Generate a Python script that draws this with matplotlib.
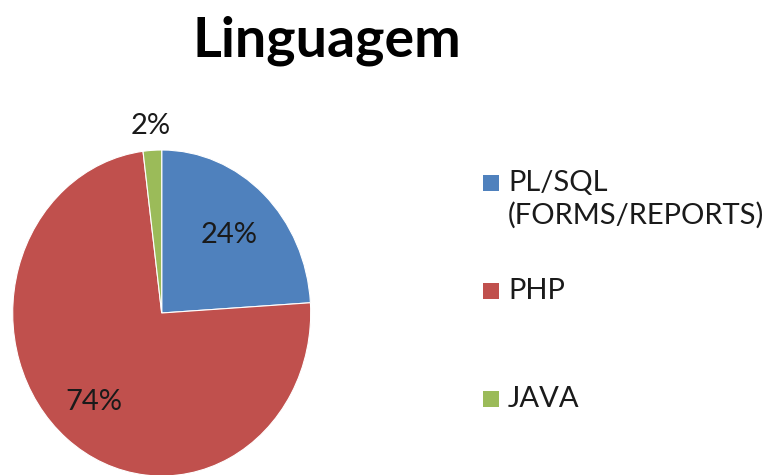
import numpy as np
import matplotlib
matplotlib.use('Agg')
import matplotlib.pyplot as plt
from matplotlib.patches import Rectangle

# data
labels = ['PL/SQL\n(FORMS/REPORTS)', 'PHP', 'JAVA']
values = [24, 74, 2]
colors = ['#4F81BD', '#C0504D', '#9BBB59']
label_dist = [0.66, 0.71, 1.15]

plt.rcParams['font.family'] = ['Lato', 'DejaVu Sans']

W, H = 767, 475
fig = plt.figure(figsize=(W / 100, H / 100), dpi=100)
ax = fig.add_axes([0, 0, 1, 1])

wedges, _ = ax.pie(values, colors=colors, startangle=90, counterclock=False,
                   wedgeprops=dict(edgecolor='white', linewidth=0.8))

# pie is slightly stretched vertically in the original (ellipse)
cx, cy = 161.7, 313.0   # centre in pixels (from top)
rx, ry = 149.0, 163.0   # radius in pixels
ax.set_aspect('auto')
x0 = -cx / rx
y0 = -(H - cy) / ry
ax.set_xlim(x0, x0 + W / rx)
ax.set_ylim(y0, y0 + H / ry)
ax.axis('off')

# percentage labels
for w, v, d in zip(wedges, values, label_dist):
    ang = np.deg2rad((w.theta1 + w.theta2) / 2)
    ax.text(d * np.cos(ang), d * np.sin(ang), f'{v}%', ha='center', va='center',
            fontsize=21, color='#1a1a1a')

fig.text(327 / W, 1 - 41 / H, 'Linguagem', ha='center', va='center',
         fontsize=40, fontweight='bold', color='black')

# legend, one entry per slice
entry_y = [183, 291, 399]
for lab, c, ey in zip(labels, colors, entry_y):
    fig.patches.append(Rectangle((483 / W, 1 - (ey + 8) / H), 16 / W, 16 / H,
                                 transform=fig.transFigure, facecolor=c,
                                 edgecolor='none'))
    for i, line in enumerate(lab.split('\n')):
        fig.text(508 / W, 1 - (ey + 32 * i) / H, line, ha='left', va='center',
                 fontsize=21, color='#1a1a1a')

fig.savefig('out.png', dpi=100)
